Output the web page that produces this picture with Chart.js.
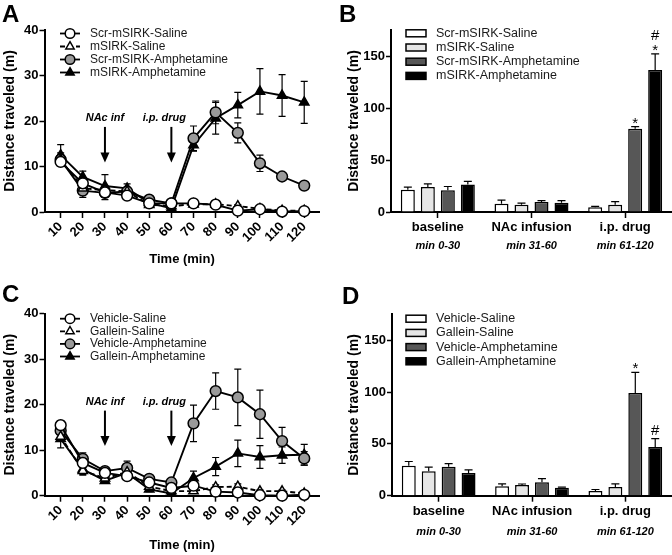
<!DOCTYPE html>
<html>
<head>
<meta charset="utf-8">
<script src="https://cdn.jsdelivr.net/npm/chart.js@4"></script>
<style>
  body { margin: 0; background: #fff; width: 672px; height: 555px; position: relative; overflow: hidden; }
  canvas { position: absolute; }
</style>
</head>
<body>
<canvas id="panelA" width="336" height="277" style="left:0;top:0"></canvas>
<canvas id="panelB" width="336" height="277" style="left:336px;top:0"></canvas>
<canvas id="panelC" width="336" height="278" style="left:0;top:277px"></canvas>
<canvas id="panelD" width="336" height="278" style="left:336px;top:277px"></canvas>
<script>
// time bins (min) and tick labels
const times = [10, 20, 30, 40, 50, 60, 70, 80, 90, 100, 110, 120];
const lineYTicks = [0, 10, 20, 30, 40];
const barYTicks = [0, 50, 100, 150];
const periods = ['baseline', 'NAc infusion', 'i.p. drug'];
const periodRanges = ['min 0-30', 'min 31-60', 'min 61-120'];

// panel A - mSIRK
const aLabels = ['Scr-mSIRK-Saline', 'mSIRK-Saline', 'Scr-mSIRK-Amphetamine', 'mSIRK-Amphetamine'];
const aScrSaline = [11, 6.3, 4.3, 3.6, 1.9, 1.9, 1.9, 1.6, 0.3, 0.6, 0.1, 0.2];
const aScrSalineErr = [0.8, 0.8, 0.8, 0.6, 0.4, 0.3, 0.3, 0.3, 0.2, 0.2, 0.1, 0.1];
const aMsirkSaline = [11.5, 5.2, 4.8, 4.5, 1.6, 1.3, 1.7, 1.7, 1.3, 0.7, 0.3, 0.3];
const aMsirkSalineErr = [1, 0.8, 0.8, 0.6, 0.4, 0.3, 0.3, 0.3, 0.3, 0.3, 0.2, 0.2];
const aScrAmph = [11.5, 4.7, 4.2, 4.5, 2.7, 1.9, 16.2, 21.9, 17.4, 10.7, 7.8, 5.8];
const aScrAmphErr = [1.5, 1.5, 1.5, 1, 0.5, 0.4, 2.7, 2.5, 2.2, 1.8, 0.8, 0.5];
const aMsirkAmph = [12.5, 7.7, 5.7, 5.2, 2.0, 0.8, 14.7, 20.6, 23.5, 26.5, 25.6, 24.1];
const aMsirkAmphErr = [2.3, 1.3, 2.5, 1.0, 0.5, 0.3, 1.3, 3.5, 2.8, 5, 4.6, 4.6];

// panel B - mSIRK totals
const bScrSaline = [21.5, 8, 4.5];
const bScrSalineErr = [2.5, 3.5, 1];
const bMsirkSaline = [24, 7, 7];
const bMsirkSalineErr = [3, 1.5, 3];
const bScrAmph = [21, 9.5, 80];
const bScrAmphErr = [3.5, 1.5, 2];
const bMsirkAmph = [26.5, 9, 136.5];
const bMsirkAmphErr = [3, 2, 15.5];

// panel C - gallein
const cLabels = ['Vehicle-Saline', 'Gallein-Saline', 'Vehicle-Amphetamine', 'Gallein-Amphetamine'];
const cVehSaline = [15.5, 7.2, 5.0, 4.3, 2.9, 1.7, 2.2, 0.9, 0.7, 0.1, 0, 0.2];
const cVehSalineErr = [1, 1, 0.8, 0.8, 0.5, 0.4, 0.5, 0.3, 0.3, 0.1, 0.1, 0.1];
const cGalSaline = [13, 5.5, 3.8, 5.2, 2.0, 1.0, 1.0, 1.9, 2.0, 1.0, 1.0, 0.5];
const cGalSalineErr = [1, 0.8, 0.6, 0.8, 0.5, 0.3, 0.4, 0.5, 0.6, 0.3, 0.3, 0.2];
const cVehAmph = [14.3, 8.1, 5.4, 6.1, 3.7, 2.9, 15.9, 23.0, 21.6, 17.9, 12.0, 8.2];
const cVehAmphErr = [1.5, 1.3, 0.8, 1.5, 0.6, 0.5, 4, 4, 6.2, 5.3, 3, 1.5];
const cGalAmph = [12.5, 5.8, 3.3, 5.0, 1.4, 0.5, 3.9, 6.4, 9.3, 8.5, 8.9, 9.0];
const cGalAmphErr = [2, 1.3, 0.6, 1.2, 0.5, 0.3, 1.5, 2, 2.9, 2.5, 1.8, 2.3];

// panel D - gallein totals
const dVehSaline = [29, 9, 4.5];
const dVehSalineErr = [4, 2.5, 1.5];
const dGalSaline = [23.5, 10.3, 8.4];
const dGalSalineErr = [4, 1, 3];
const dVehAmph = [28, 13, 99];
const dVehAmphErr = [3, 3.5, 20];
const dGalAmph = [22, 7.7, 47];
const dGalAmphErr = [3, 0.5, 8];

// significance marks: [dataset, period, symbols bottom->top]
const bMarks = [[2, 2, ['*']], [3, 2, ['*', '#']]];
const dMarks = [[2, 2, ['*']], [3, 2, ['#']]];

const FONT = '"Liberation Sans", Arial, Helvetica, sans-serif';
Chart.defaults.font.family = FONT;
Chart.defaults.color = '#000';

const lineStyles = [
  { shape: 'circle', fill: '#fff', dash: [] },
  { shape: 'triangle', fill: '#fff', dash: [5, 3] },
  { shape: 'circle', fill: '#9a9a9a', dash: [] },
  { shape: 'triangle', fill: '#000', dash: [] }
];
const barFills = ['#fff', '#e6e6e6', '#575757', '#000'];

function drawMarker(ctx, shape, x, y, r, fill) {
  ctx.beginPath();
  if (shape === 'circle') {
    ctx.arc(x, y, r, 0, Math.PI * 2);
  } else {
    ctx.moveTo(x, y - r);
    ctx.lineTo(x + r * 0.866, y + r * 0.5);
    ctx.lineTo(x - r * 0.866, y + r * 0.5);
    ctx.closePath();
  }
  ctx.setLineDash([]);
  ctx.fillStyle = fill;
  ctx.fill();
  ctx.lineWidth = 1.5;
  ctx.strokeStyle = '#000';
  ctx.stroke();
}

// SEM bars, both ways for lines, upward only for bars
const errorBars = {
  id: 'errorBars',
  beforeDatasetsDraw(chart) {
    if (chart.config.type === 'line') drawErrors(chart, false);
  },
  afterDatasetsDraw(chart) {
    if (chart.config.type === 'bar') drawErrors(chart, true);
  }
};

function drawErrors(chart, upOnly) {
  const ctx = chart.ctx;
  const ys = chart.scales.y;
  ctx.save();
  ctx.strokeStyle = '#000';
  ctx.lineWidth = 1.2;
  ctx.setLineDash([]);
  chart.data.datasets.forEach((ds, i) => {
    const meta = chart.getDatasetMeta(i);
    ds.errors.forEach((e, j) => {
      const raw = ds.data[j];
      const v = typeof raw === 'object' ? raw.y : raw;
      const x = meta.data[j].x;
      const top = ys.getPixelForValue(v + e);
      const bot = ys.getPixelForValue(upOnly ? v : Math.max(v - e, 0));
      const cap = upOnly ? 4 : 3.5;
      ctx.beginPath();
      ctx.moveTo(x, top); ctx.lineTo(x, bot);
      ctx.moveTo(x - cap, top); ctx.lineTo(x + cap, top);
      if (!upOnly) { ctx.moveTo(x - cap, bot); ctx.lineTo(x + cap, bot); }
      ctx.stroke();
    });
  });
  ctx.restore();
}

// panel letter, legend, arrows, period subtitles, significance marks
const decor = {
  id: 'decor',
  afterDraw(chart, args, o) {
    const ctx = chart.ctx;
    const xs = chart.scales.x, ys = chart.scales.y;
    ctx.save();
    ctx.fillStyle = '#000';
    ctx.font = 'bold 24px ' + FONT;
    ctx.textBaseline = 'top';
    ctx.textAlign = 'left';
    ctx.fillText(o.letter, o.letterX, o.letterY);

    ctx.font = o.legendFont + 'px ' + FONT;
    ctx.textBaseline = 'middle';
    o.legendLabels.forEach((lab, k) => {
      const y = o.legendTop + k * o.legendStep;
      if (o.kind === 'line') {
        const st = lineStyles[k];
        ctx.beginPath();
        ctx.setLineDash(st.dash);
        ctx.lineWidth = 1.8;
        ctx.strokeStyle = '#000';
        ctx.moveTo(o.legendX, y); ctx.lineTo(o.legendX + 20, y);
        ctx.stroke();
        drawMarker(ctx, st.shape, o.legendX + 10, y, 4.8, st.fill);
      } else {
        ctx.setLineDash([]);
        ctx.fillStyle = barFills[k];
        ctx.fillRect(o.legendX, y - 3.5, 20, 7);
        ctx.lineWidth = 1.5;
        ctx.strokeStyle = '#000';
        ctx.strokeRect(o.legendX, y - 3.5, 20, 7);
      }
      ctx.fillStyle = '#1a1a1a';
      ctx.fillText(lab, o.textX, y);
    });

    ctx.fillStyle = '#000';
    ctx.strokeStyle = '#000';
    ctx.setLineDash([]);
    if (o.kind === 'line') {
      [[30, 'NAc inf', 0], [60, 'i.p. drug', -7]].forEach(([at, txt, dx]) => {
        const x = xs.getPixelForValue(at);
        const y0 = ys.getPixelForValue(18.7), y1 = ys.getPixelForValue(10.9);
        ctx.lineWidth = 2;
        ctx.beginPath(); ctx.moveTo(x, y0); ctx.lineTo(x, y1 - 8); ctx.stroke();
        ctx.beginPath(); ctx.moveTo(x - 4.5, y1 - 10); ctx.lineTo(x + 4.5, y1 - 10); ctx.lineTo(x, y1); ctx.closePath(); ctx.fill();
        ctx.font = 'italic bold 11px ' + FONT;
        ctx.textAlign = 'center';
        ctx.textBaseline = 'middle';
        ctx.fillText(txt, x + dx, ys.getPixelForValue(20.6));
      });
    } else {
      ctx.font = 'italic bold 11px ' + FONT;
      ctx.textAlign = 'center';
      ctx.textBaseline = 'middle';
      periodRanges.forEach((t, i) => {
        ctx.fillText(t, xs.getPixelForTick(i), chart.chartArea.bottom + o.subOffset);
      });
      ctx.font = '15px ' + FONT;
      ctx.textBaseline = 'alphabetic';
      o.marks.forEach(([d, i, syms]) => {
        const ds = chart.data.datasets[d];
        const el = chart.getDatasetMeta(d).data[i];
        let y = ys.getPixelForValue(ds.data[i] + ds.errors[i]) + 1;
        syms.forEach((s, n) => {
          const yy = s === '#' ? y - (n === 0 ? 5 : 2) : y;
          ctx.fillText(s, el.x, yy);
          y -= 13;
        });
      });
    }
    ctx.restore();
  }
};

function axisY(max, ticks, width, titlePad) {
  return {
    min: 0, max: max, bounds: 'data',
    afterBuildTicks: s => { s.ticks = ticks.map(v => ({ value: v })); },
    afterFit: s => { s.width = width; },
    ticks: { font: { size: 13, weight: 'bold' }, color: '#000', padding: 1 },
    grid: { drawOnChartArea: false, drawTicks: true, tickLength: 5, tickColor: '#000', tickWidth: 1.5 },
    border: { display: true, color: '#000', width: 2 },
    title: { display: true, text: 'Distance traveled (m)', font: { size: 14, weight: 'bold' }, color: '#000', padding: { top: titlePad, bottom: 0 } }
  };
}

function lineChart(id, labels, series, errors, o) {
  const datasets = series.map((vals, k) => ({
    label: labels[k],
    data: vals.map((v, i) => ({ x: times[i], y: v })),
    errors: errors[k],
    borderColor: '#000',
    borderWidth: 1.9,
    borderDash: lineStyles[k].dash,
    pointStyle: lineStyles[k].shape,
    pointRadius: 5.4,
    pointBorderWidth: 1.5,
    pointBackgroundColor: lineStyles[k].fill,
    pointBorderColor: '#000',
    tension: 0,
    fill: false,
    clip: false
  }));
  return new Chart(document.getElementById(id), {
    type: 'line',
    data: { datasets },
    options: {
      responsive: false,
      animation: false,
      layout: { padding: { left: 0, top: o.top, right: 16.5, bottom: 0 } },
      plugins: {
        legend: { display: false },
        tooltip: { enabled: false },
        decor: Object.assign({ kind: 'line', legendLabels: labels, legendX: 60, textX: 90, legendFont: 12 }, o.decor)
      },
      scales: {
        x: {
          type: 'linear', min: 2.7, max: 126.9, bounds: 'data',
          afterBuildTicks: s => { s.ticks = times.map(v => ({ value: v })); },
          afterFit: s => { s.height = o.xHeight; },
          ticks: { autoSkip: false, minRotation: 45, maxRotation: 45, font: { size: 13, weight: 'bold' }, color: '#000', padding: 1 },
          grid: { drawOnChartArea: false, drawTicks: true, tickLength: 6, tickColor: '#000', tickWidth: 1.5 },
          border: { display: true, color: '#000', width: 2 },
          title: { display: true, text: 'Time (min)', font: { size: 13, weight: 'bold' }, color: '#000', padding: { top: 0, bottom: o.titleBottom } }
        },
        y: axisY(40, lineYTicks, 44.5, 2)
      }
    },
    plugins: [errorBars, decor]
  });
}

function barChart(id, labels, series, errors, marks, o) {
  const datasets = series.map((vals, k) => ({
    label: labels[k],
    data: vals,
    errors: errors[k],
    backgroundColor: barFills[k],
    borderColor: '#000',
    borderWidth: 1.5,
    barPercentage: 0.7,
    categoryPercentage: 0.854
  }));
  return new Chart(document.getElementById(id), {
    type: 'bar',
    data: { labels: periods, datasets },
    options: {
      responsive: false,
      animation: false,
      layout: { padding: { left: 0, top: o.top, right: 0, bottom: 0 } },
      plugins: {
        legend: { display: false },
        tooltip: { enabled: false },
        decor: Object.assign({ kind: 'bar', legendLabels: labels, legendX: 70, textX: 100, legendFont: 12.5, marks: marks }, o.decor)
      },
      scales: {
        x: {
          type: 'category',
          afterFit: s => { s.height = o.xHeight; },
          ticks: { autoSkip: false, maxRotation: 0, font: { size: 13, weight: 'bold' }, color: '#000', padding: 2 },
          grid: { offset: false, drawOnChartArea: false, drawTicks: true, tickLength: 6, tickColor: '#000', tickWidth: 1.5 },
          border: { display: true, color: '#000', width: 2 }
        },
        y: axisY(175, barYTicks, o.yWidth, 9.6)
      }
    },
    plugins: [errorBars, decor]
  });
}

lineChart('panelA', aLabels,
  [aScrSaline, aMsirkSaline, aScrAmph, aMsirkAmph],
  [aScrSalineErr, aMsirkSalineErr, aScrAmphErr, aMsirkAmphErr],
  { top: 30, xHeight: 65, titleBottom: 10,
    decor: { letter: 'A', letterX: 2, letterY: 3, legendTop: 33.5, legendStep: 13 } });

barChart('panelB', aLabels,
  [bScrSaline, bMsirkSaline, bScrAmph, bMsirkAmph],
  [bScrSalineErr, bMsirkSalineErr, bScrAmphErr, bMsirkAmphErr], bMarks,
  { top: 30, xHeight: 65, yWidth: 55,
    decor: { letter: 'B', letterX: 3, letterY: 3, legendTop: 33.3, legendStep: 14.2, subOffset: 34 } });

lineChart('panelC', cLabels,
  [cVehSaline, cGalSaline, cVehAmph, cGalAmph],
  [cVehSalineErr, cGalSalineErr, cVehAmphErr, cGalAmphErr],
  { top: 36.7, xHeight: 59.3, titleBottom: 2,
    decor: { letter: 'C', letterX: 2, letterY: 6, legendTop: 41.7, legendStep: 12.6 } });

barChart('panelD', cLabels,
  [dVehSaline, dGalSaline, dVehAmph, dGalAmph],
  [dVehSalineErr, dGalSalineErr, dVehAmphErr, dGalAmphErr], dMarks,
  { top: 37.3, xHeight: 59.3, yWidth: 56,
    decor: { letter: 'D', letterX: 6, letterY: 8, legendTop: 41.7, legendStep: 14.2, subOffset: 36 } });
</script>
</body>
</html>
